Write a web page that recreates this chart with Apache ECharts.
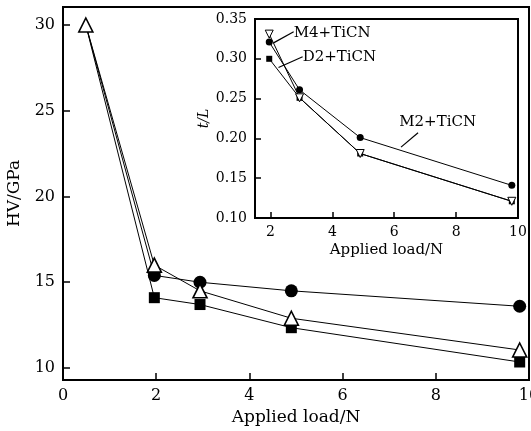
<!DOCTYPE html>
<html>
<head>
<meta charset="utf-8">
<script src="https://cdn.jsdelivr.net/npm/echarts@6/dist/echarts.min.js"></script>
<style>
  html, body { margin: 0; padding: 0; background: #fff; }
  #chart { width: 531px; height: 431px; }
</style>
</head>
<body>
<div id="chart"></div>
<script>
// applied loads (N)
const loads = [0.49, 1.96, 2.94, 4.9, 9.8]
const hvCircle = [30, 15.4, 15.0, 14.5, 13.6]
const hvSquare = [30, 14.1, 13.7, 12.35, 10.35]
const hvTriangle = [30, 16.0, 14.5, 12.9, 11.05]

// inset: t/L
const insetLoads = [1.96, 2.94, 4.9, 9.8]
const tlM2 = [0.321, 0.261, 0.201, 0.141]
const tlD2 = [0.30, 0.251, 0.181, 0.121]
const tlM4 = [0.331, 0.251, 0.181, 0.121]

const annos = [
  { text: 'M4+TiCN', from: [2.10, 0.320], to: [2.75, 0.334], at: [2.75, 0.3325] },
  { text: 'D2+TiCN', from: [2.26, 0.289], to: [3.04, 0.3025], at: [3.04, 0.3025] },
  { text: 'M2+TiCN', from: [6.22, 0.189], to: [6.77, 0.207], at: [6.16, 0.221] }
]

const pairs = (xs, ys) => xs.map((x, i) => [x, ys[i]])
// the shared first point is drawn only by the triangle series (on top)
const hideFirst = arr => arr.map((p, i) => (i === 0 ? { value: p, symbol: 'none' } : p))
const font = 'DejaVu Serif'
const isMult = (v, s) => Math.abs(v - Math.round(v / s) * s) < 1e-6

const lineStyle = { color: '#000', width: 1 }

const option = {
  animation: false,
  backgroundColor: '#fff',
  grid: [
    { left: 63, right: 2, top: 7, bottom: 51, show: true, borderColor: '#000', borderWidth: 2, outerBoundsMode: 'none', containLabel: false },
    { left: 255, right: 13, top: 19, bottom: 213, show: true, borderColor: '#000', borderWidth: 2, backgroundColor: '#fff', z: 5, outerBoundsMode: 'none', containLabel: false }
  ],
  xAxis: [
    {
      gridIndex: 0, type: 'value', min: 0, max: 10, interval: 2,
      name: 'Applied load/N', nameLocation: 'middle', nameGap: 28,
      nameTextStyle: { fontFamily: font, fontSize: 17, color: '#000' },
      axisLine: { lineStyle: { color: '#000', width: 2 } },
      axisTick: { inside: true, length: 7, lineStyle: { color: '#000', width: 1.5 } },
      axisLabel: { fontFamily: font, fontSize: 16, color: '#000', margin: 8 },
      splitLine: { show: false }
    },
    {
      gridIndex: 1, type: 'value', min: 1.5, max: 10, splitNumber: 5,
      name: 'Applied load/N', nameLocation: 'middle', nameGap: 25,
      nameTextStyle: { fontFamily: font, fontSize: 15, color: '#000' },
      axisLine: { lineStyle: { color: '#000', width: 2 } },
      axisTick: { inside: true, length: 6, lineStyle: { color: '#000', width: 1.5 } },
      axisLabel: {
        fontFamily: font, fontSize: 14, color: '#000', margin: 7,
        formatter: v => (isMult(v, 2) ? String(Math.round(v)) : '')
      },
      splitLine: { show: false }, z: 6
    }
  ],
  yAxis: [
    {
      gridIndex: 0, type: 'value', min: 9.3, max: 31.05, splitNumber: 5,
      name: 'HV/GPa', nameLocation: 'middle', nameGap: 40,
      nameTextStyle: { fontFamily: font, fontSize: 17, color: '#000' },
      axisLine: { lineStyle: { color: '#000', width: 2 } },
      axisTick: { inside: true, length: 7, lineStyle: { color: '#000', width: 1.5 } },
      axisLabel: {
        fontFamily: font, fontSize: 16, color: '#000', margin: 8,
        formatter: v => (isMult(v, 5) ? String(Math.round(v)) : '')
      },
      splitLine: { show: false }
    },
    {
      gridIndex: 1, type: 'value', min: 0.10, max: 0.35, interval: 0.05,
      name: 't/L', nameLocation: 'middle', nameGap: 44,
      nameTextStyle: { fontFamily: font, fontSize: 14, fontStyle: 'italic', color: '#000' },
      axisLine: { lineStyle: { color: '#000', width: 2 } },
      axisTick: { inside: true, length: 6, lineStyle: { color: '#000', width: 1.5 } },
      axisLabel: { fontFamily: font, fontSize: 14, color: '#000', margin: 8, formatter: v => v.toFixed(2) },
      splitLine: { show: false }, z: 6
    }
  ],
  series: [
    {
      type: 'line', xAxisIndex: 0, yAxisIndex: 0, data: hideFirst(pairs(loads, hvCircle)),
      symbol: 'circle', symbolSize: 13, lineStyle, itemStyle: { color: '#000' }
    },
    {
      type: 'line', xAxisIndex: 0, yAxisIndex: 0, data: hideFirst(pairs(loads, hvSquare)),
      symbol: 'rect', symbolSize: 11, lineStyle, itemStyle: { color: '#000' }
    },
    {
      type: 'line', xAxisIndex: 0, yAxisIndex: 0, data: pairs(loads, hvTriangle),
      symbol: 'triangle', symbolSize: 14, lineStyle,
      itemStyle: { color: '#fff', borderColor: '#000', borderWidth: 1.6 }
    },
    {
      type: 'line', xAxisIndex: 1, yAxisIndex: 1, data: pairs(insetLoads, tlM2), z: 7,
      symbol: 'circle', symbolSize: 7, lineStyle, itemStyle: { color: '#000' }
    },
    {
      type: 'line', xAxisIndex: 1, yAxisIndex: 1, data: pairs(insetLoads, tlD2), z: 7,
      symbol: 'rect', symbolSize: 6, lineStyle, itemStyle: { color: '#000' }
    },
    {
      type: 'line', xAxisIndex: 1, yAxisIndex: 1, data: pairs(insetLoads, tlM4), z: 8,
      symbol: 'triangle', symbolRotate: 180, symbolSize: 8, lineStyle,
      itemStyle: { color: '#fff', borderColor: '#000', borderWidth: 1 }
    }
  ]
}

const myChart = echarts.init(document.getElementById('chart'))
myChart.setOption(option, true)

// annotation labels, anchored in inset data space
const graphics = []
annos.forEach(a => {
  const p1 = myChart.convertToPixel({ gridIndex: 1 }, a.from)
  const p2 = myChart.convertToPixel({ gridIndex: 1 }, a.to)
  const pt = myChart.convertToPixel({ gridIndex: 1 }, a.at)
  graphics.push({
    type: 'line', z: 20,
    shape: { x1: p1[0], y1: p1[1], x2: p2[0], y2: p2[1] },
    style: { stroke: '#000', lineWidth: 1.2 }
  })
  graphics.push({
    type: 'text', z: 20, x: pt[0], y: pt[1],
    style: { text: a.text, font: '15px "DejaVu Serif"', fill: '#000', textAlign: 'left', textVerticalAlign: 'middle' }
  })
})
myChart.setOption({ graphic: graphics })
</script>
</body>
</html>
